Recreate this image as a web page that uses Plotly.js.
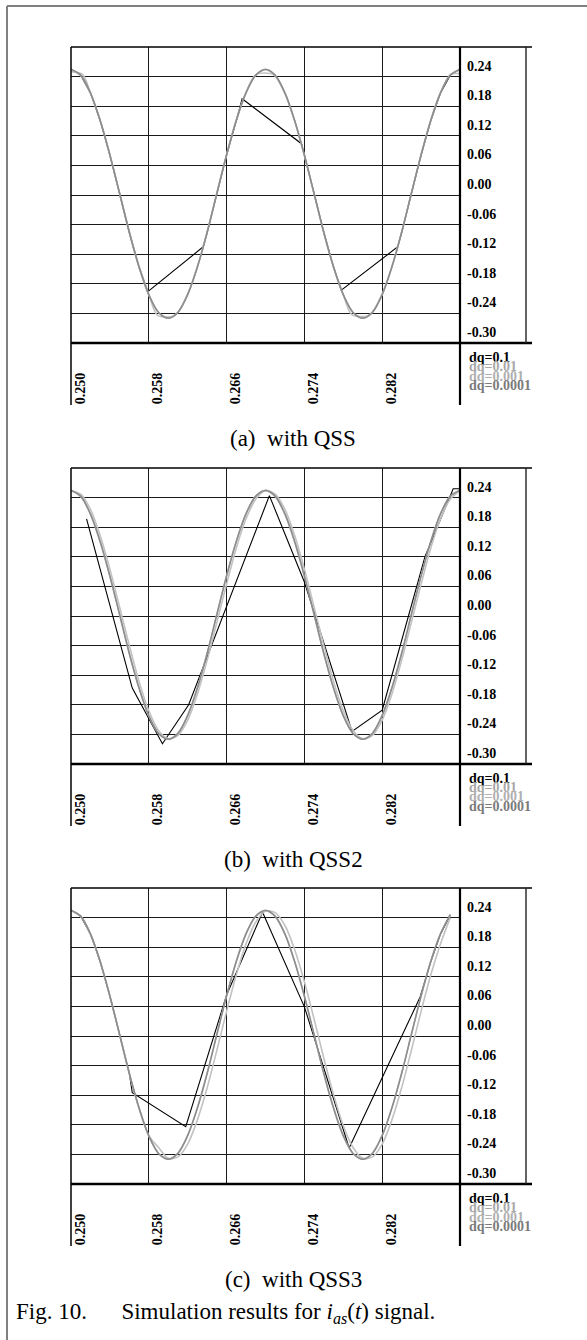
<!DOCTYPE html>
<html>
<head>
<meta charset="utf-8">
<script src="https://cdn.plot.ly/plotly-3.0.1.min.js"></script>
<style>
html,body{margin:0;padding:0;background:#fff;}
#chart{width:587px;height:1340px;}
</style>
</head>
<body>
<div id="chart"></div>
<script>
// ---------- data ----------
const panelNames = ["(a)\u00a0 with QSS", "(b)\u00a0 with QSS2", "(c)\u00a0 with QSS3"];
const seriesNames = ["dq=0.1", "dq=0.01", "dq=0.001", "dq=0.0001"];
const xTickVals = [0.250, 0.258, 0.266, 0.274, 0.282];
const xTickText = ["0.250", "0.258", "0.266", "0.274", "0.282"];
const yTickVals = [-0.30, -0.24, -0.18, -0.12, -0.06, 0.00, 0.06, 0.12, 0.18, 0.24];
const yTickText = ["-0.30", "-0.24", "-0.18", "-0.12", "-0.06", "0.00", "0.06", "0.12", "0.18", "0.24"];

// common time grid for the fine solutions
const tFine = [0.250,0.251,0.252,0.253,0.254,0.255,0.256,0.257,0.258,0.259,
               0.260,0.261,0.262,0.263,0.264,0.265,0.266,0.267,0.268,0.269,
               0.270,0.271,0.272,0.273,0.274,0.275,0.276,0.277,0.278,0.279,
               0.280,0.281,0.282,0.283,0.284,0.285,0.286,0.287,0.288,0.289,0.290];
// dq = 0.0001
const iDq0001 = [0.255,0.243,0.207,0.151,0.081,0.003,-0.076,-0.146,-0.202,-0.238,
                 -0.250,-0.238,-0.202,-0.146,-0.076,0.003,0.081,0.151,0.207,0.243,
                 0.255,0.243,0.207,0.151,0.081,0.003,-0.076,-0.146,-0.202,-0.238,
                 -0.250,-0.238,-0.202,-0.146,-0.076,0.003,0.081,0.151,0.207,0.243,0.255];
// dq = 0.001
const iDq001 = [0.254,0.242,0.206,0.150,0.080,0.002,-0.077,-0.147,-0.203,-0.238,
                -0.249,-0.237,-0.201,-0.145,-0.075,0.004,0.082,0.152,0.208,0.243,
                0.254,0.242,0.206,0.150,0.080,0.002,-0.077,-0.147,-0.203,-0.238,
                -0.249,-0.237,-0.201,-0.145,-0.075,0.004,0.082,0.152,0.208,0.243,0.254];

// (a) QSS
const tA_01 = [0.2500,0.2512,0.252,0.253,0.254,0.255,0.256,0.257,0.258,0.2589,0.2607,0.262,0.263,0.264,0.265,0.266,0.267,0.268,
               0.2690,0.2708,0.272,0.273,0.274,0.275,0.276,0.277,0.278,0.2789,0.2807,0.282,0.283,0.284,0.285,0.286,0.287,0.288,0.2890,0.2900];
const iA_01 = [0.250,0.244,0.207,0.152,0.082,0.004,-0.074,-0.145,-0.201,-0.244,-0.244,-0.201,-0.145,-0.075,0.004,0.082,0.152,0.208,
               0.244,0.244,0.206,0.150,0.080,0.002,-0.076,-0.146,-0.202,-0.243,-0.243,-0.201,-0.145,-0.075,0.003,0.081,0.151,0.207,0.244,0.246];
const tA_1 = [0.250,0.251,0.252,0.253,0.254,0.255,0.256,0.257,0.2579,0.2636,0.264,0.265,0.266,0.267,0.2676,
              0.2737,0.274,0.275,0.276,0.277,0.2778,0.2836,0.284,0.285,0.286,0.287,0.288,0.289,0.290];
const iA_1 = [0.255,0.243,0.207,0.151,0.081,0.003,-0.076,-0.146,-0.196,-0.105,-0.076,0.003,0.081,0.151,0.195,
              0.104,0.081,0.003,-0.076,-0.146,-0.193,-0.105,-0.076,0.003,0.081,0.151,0.207,0.243,0.255];

// (b) QSS2
const iB_01 = [0.254,0.247,0.216,0.163,0.095,0.018,-0.060,-0.133,-0.192,-0.232,
               -0.249,-0.242,-0.211,-0.158,-0.090,-0.013,0.065,0.138,0.197,0.237,
               0.254,0.247,0.216,0.163,0.095,0.018,-0.060,-0.133,-0.192,-0.232,
               -0.249,-0.242,-0.211,-0.158,-0.090,-0.013,0.065,0.138,0.197,0.237,0.254];
const tB_1 = [0.2516,0.2563,0.2594,0.2621,0.2704,0.2740,0.2789,0.2820,0.2864,0.2893,0.2899];
const iB_1 = [0.197,-0.146,-0.259,-0.180,0.244,0.069,-0.234,-0.191,0.120,0.258,0.258];

// (c) QSS3
const tC_fine = [0.250,0.251,0.252,0.253,0.254,0.255,0.256,0.257,0.258,0.259,
                 0.260,0.261,0.262,0.263,0.264,0.265,0.266,0.267,0.268,0.269,
                 0.270,0.271,0.272,0.273,0.274,0.275,0.276,0.277,0.278,0.279,
                 0.280,0.281,0.282,0.283,0.284,0.285,0.286,0.287,0.288,0.289];
const iC_0001 = [0.255,0.243,0.207,0.151,0.081,0.003,-0.076,-0.146,-0.202,-0.238,
                 -0.250,-0.238,-0.202,-0.146,-0.076,0.003,0.081,0.151,0.207,0.243,
                 0.255,0.243,0.207,0.151,0.081,0.003,-0.076,-0.146,-0.202,-0.238,
                 -0.250,-0.238,-0.202,-0.146,-0.076,0.003,0.081,0.151,0.207,0.246];
const iC_001 = [0.254,0.242,0.206,0.150,0.080,0.002,-0.077,-0.147,-0.203,-0.238,
                -0.249,-0.237,-0.201,-0.145,-0.075,0.004,0.082,0.152,0.208,0.243,
                0.254,0.242,0.206,0.150,0.080,0.002,-0.077,-0.147,-0.203,-0.238,
                -0.249,-0.237,-0.201,-0.145,-0.075,0.004,0.082,0.152,0.208,0.246];
const iC_01 = [0.255,0.243,0.207,0.151,0.081,0.003,-0.076,-0.146,-0.202,-0.226,
               -0.248,-0.245,-0.219,-0.170,-0.105,-0.029,0.050,0.124,0.187,0.231,
               0.253,0.250,0.224,0.175,0.110,0.034,-0.045,-0.119,-0.182,-0.226,
               -0.248,-0.245,-0.219,-0.170,-0.105,-0.029,0.050,0.124,0.187,0.240];
const tC_1 = [0.250,0.251,0.252,0.253,0.254,0.255,0.256,0.2563,0.2618,0.2660,0.2697,0.2740,0.2786,0.2859,0.287,0.288,0.2890];
const iC_1 = [0.255,0.243,0.207,0.151,0.081,0.003,-0.076,-0.115,-0.184,0.083,0.251,0.059,-0.227,0.079,0.151,0.207,0.245];

// ---------- styling ----------
const W = 587, H = 1340;
const colBlack = "#000000", col01 = "#c2c2c2", col001 = "#b4b4b4", col0001 = "#8c8c8c";
const legendColors = ["#000000", "#a8a8a8", "#b0b0b0", "#7a7a7a"];
const serif = "Liberation Serif, Times New Roman, serif";
const px = v => v / W;
const py = v => 1 - v / H;

const panelTop = [47, 468, 888];
const plotH = 296, plotL = 71, plotR = 460;

const panels = [
  {black: [tA_1, iA_1], d01: [tA_01, iA_01], d001: [tFine, iDq001], d0001: [tFine, iDq0001]},
  {black: [tB_1, iB_1], d01: [tFine, iB_01], d001: [tFine, iDq001], d0001: [tFine, iDq0001]},
  {black: [tC_1, iC_1], d01: [tC_fine, iC_01], d001: [tC_fine, iC_001], d0001: [tC_fine, iC_0001]}
];

const traces = [];
const layout = {
  width: W, height: H,
  margin: {l: 0, r: 0, t: 0, b: 0},
  paper_bgcolor: "#ffffff", plot_bgcolor: "#ffffff",
  showlegend: false,
  shapes: [], annotations: []
};

panels.forEach((p, k) => {
  const n = k === 0 ? "" : String(k + 1);
  const xa = "x" + n, ya = "y" + n;
  const T = panelTop[k], B = T + plotH;
  const mk = (d, color, width, spline) => ({
    type: "scatter", mode: "lines", x: d[0], y: d[1], xaxis: xa, yaxis: ya,
    line: {color: color, width: width, shape: spline ? "spline" : "linear", smoothing: 0.8},
    hoverinfo: "skip", cliponaxis: true
  });
  traces.push(mk(p.black, colBlack, 1.1, false));
  traces.push(mk(p.d01, col01, 1.6, true));
  traces.push(mk(p.d001, col001, 1.5, true));
  traces.push(mk(p.d0001, col0001, 1.5, true));

  const tf = {family: serif, size: 14, color: "#000", weight: "bold"};
  layout["xaxis" + n] = {
    domain: [px(plotL), px(plotR)], anchor: ya, range: [0.250, 0.290],
    tickmode: "array", tickvals: xTickVals, ticktext: xTickText, tickangle: -90,
    ticks: "", showline: false, zeroline: false, showgrid: true,
    gridcolor: "#1a1a1a", gridwidth: 1, tickfont: tf,
    ticklabelstandoff: 26, ticklabelshift: 9, automargin: false, fixedrange: true
  };
  layout["yaxis" + n] = {
    domain: [py(B), py(T)], anchor: xa, range: [-0.30, 0.30], side: "right",
    tickmode: "array", tickvals: yTickVals, ticktext: yTickText,
    ticks: "", showline: false, zeroline: false, showgrid: true,
    gridcolor: "#1a1a1a", gridwidth: 1, tickfont: tf,
    ticklabelstandoff: 6, ticklabelshift: -11, automargin: false, fixedrange: true
  };

  const line = (x0, y0, x1, y1, w, c) => layout.shapes.push({
    type: "line", xref: "paper", yref: "paper",
    x0: px(x0), y0: py(y0), x1: px(x1), y1: py(y1),
    line: {color: c || "#000", width: w}, layer: "above"
  });
  line(plotL, T, 532, T, 1.5);            // top border
  line(plotL, B, 532, B, 2.6);            // bottom border
  line(plotL, T, plotL, B + 62, 1.5);     // left border, continues into label strip
  line(plotR, T, plotR, B + 62, 2.2);     // right border of plot
  line(526, T, 526, B, 1.4, "#222");      // right side of value box

  // legend as coloured text
  seriesNames.forEach((s, j) => {
    layout.annotations.push({
      xref: "paper", yref: "paper", x: px(467), y: py(B + 14 + j * 9.5),
      xanchor: "left", yanchor: "middle", showarrow: false, text: s,
      font: {family: serif, size: 14, color: legendColors[j], weight: "bold"}
    });
  });
  // panel caption
  layout.annotations.push({
    xref: "paper", yref: "paper", x: px(293), y: py(B + 95),
    xanchor: "center", yanchor: "middle", showarrow: false, text: panelNames[k],
    font: {family: serif, size: 23, color: "#000"}
  });
});

// figure caption and frame
layout.annotations.push({
  xref: "paper", yref: "paper", x: px(14), y: py(1313),
  xanchor: "left", yanchor: "middle", showarrow: false,
  text: "Fig. 10.\u00a0\u00a0\u00a0\u00a0\u00a0 Simulation results for <i>i</i><sub><i>as</i></sub>(<i>t</i>) signal.",
  font: {family: serif, size: 23, color: "#000"}
});
layout.shapes.push({type: "line", xref: "paper", yref: "paper", x0: px(7), y0: py(6), x1: 1, y1: py(6), line: {color: "#808080", width: 2}});
layout.shapes.push({type: "line", xref: "paper", yref: "paper", x0: px(7), y0: py(6), x1: px(7), y1: 0, line: {color: "#808080", width: 2}});

Plotly.newPlot("chart", traces, layout, {staticPlot: true, displayModeBar: false});
</script>
</body>
</html>
